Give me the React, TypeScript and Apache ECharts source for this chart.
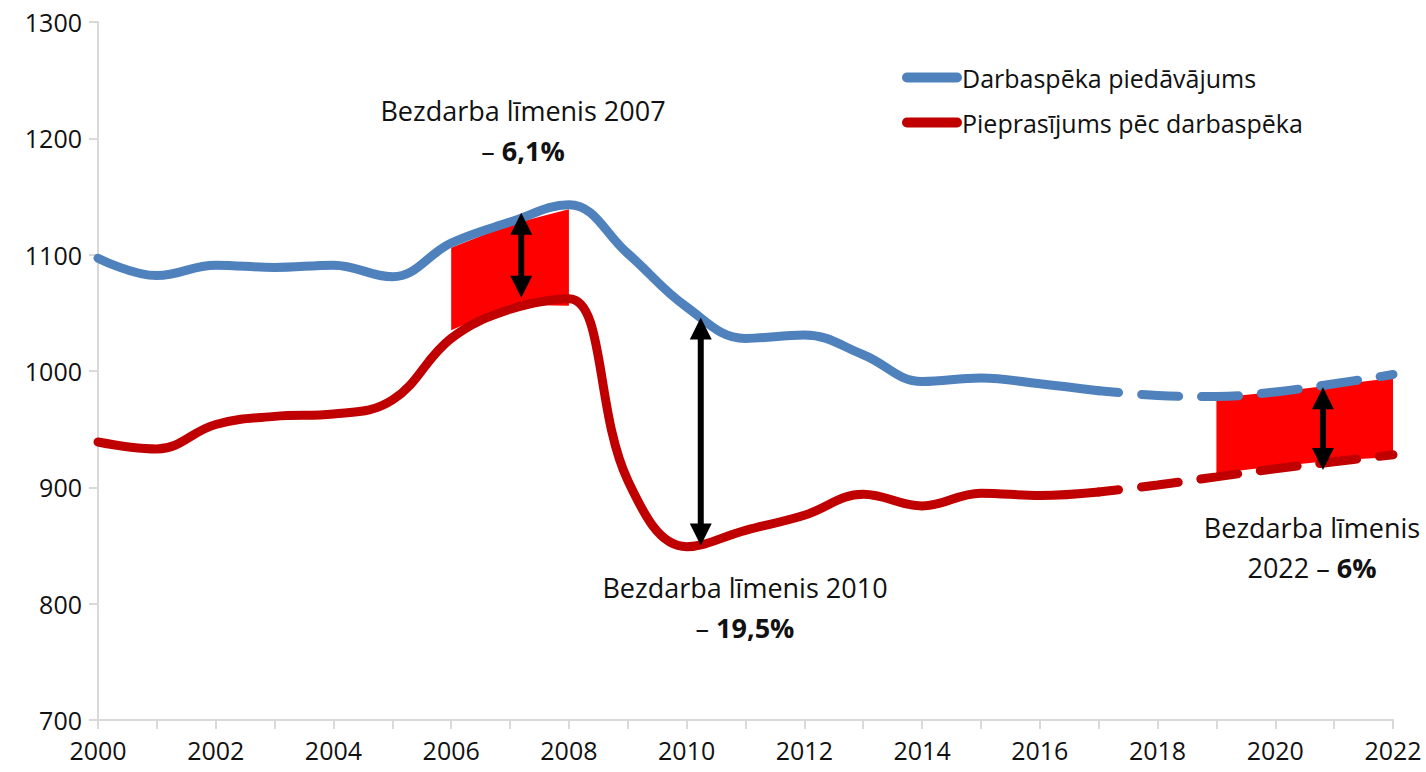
import React, { useEffect, useRef } from "react";
import * as echarts from "echarts";

const actualYears = [2000, 2001, 2002, 2003, 2004, 2005, 2006, 2007, 2008, 2009, 2010, 2011, 2012, 2013, 2014, 2015, 2016, 2017];
const supplyActual = [1097, 1082, 1091, 1089, 1091, 1081, 1110, 1128, 1143, 1101, 1055, 1028, 1031, 1014, 991, 994, 989, 983];
const demandActual = [939, 933, 954, 961, 963, 975, 1028, 1053, 1062, 906, 849, 863, 876, 894, 884, 895, 893, 896];

const forecastYears = [2017, 2018, 2019, 2020, 2021, 2022];
const supplyForecast = [983, 979, 978, 982, 989, 997];
const demandForecast = [896, 902, 909, 916, 922, 928];

const band1Years = [2006, 2007, 2008];
const band1Top = [1106, 1126, 1139];
const band1Bottom = [1035, 1057, 1056];

const band2Years = [2019, 2020, 2021, 2022];
const band2Top = [977, 982, 988, 994];
const band2Bottom = [912, 918, 923, 926];

const arrowX = [2007.19, 2010.24, 2020.81];
const arrowTop = [1136, 1046, 986];
const arrowBottom = [1063, 850, 915];

const seriesNames = ["Darbaspēka piedāvājums", "Pieprasījums pēc darbaspēka"];
const yTicks = { min: 700, max: 1300, interval: 100 };
const xRange = { min: 2000, max: 2022 };

const BLUE = "#4F81BD";
const RED = "#C00000";
const FILL = "#FF0000";
const FONT = "'Open Sans', 'Noto Sans', sans-serif";

function zip(xs: number[], ys: number[]) {
  return xs.map((x, i) => [x, ys[i]]);
}

export default function App() {
  const ref = useRef<HTMLDivElement>(null);
  useEffect(() => {
    if (!ref.current) return;
    const chart = echarts.init(ref.current, undefined, { renderer: "svg" });
    const bands = [
      { years: band1Years, top: band1Top, bottom: band1Bottom },
      { years: band2Years, top: band2Top, bottom: band2Bottom },
    ];
    const dash = { type: [37, 23] as any, dashOffset: 17, cap: "round" as any };
    const richStyles = {
      a: { fontFamily: FONT, fontSize: 27, fill: "#111", lineHeight: 40 },
      b: { fontFamily: FONT, fontSize: 27, fontWeight: "bold", fill: "#111", lineHeight: 40 },
    };
    const option: any = {
      animation: false,
      backgroundColor: "#fff",
      grid: { left: 98, right: 33, top: 22, bottom: 52, containLabel: false },
      xAxis: {
        type: "value",
        min: xRange.min,
        max: xRange.max,
        interval: 1,
        splitLine: { show: false },
        axisLine: { show: true, lineStyle: { color: "#d9d9d9", width: 2 } },
        axisTick: { show: true, length: 9, lineStyle: { color: "#d9d9d9", width: 2 } },
        axisLabel: {
          color: "#111",
          fontFamily: FONT,
          fontSize: 25,
          margin: 17,
          formatter: (v: number) => (v % 2 === 0 ? String(v) : ""),
        },
      },
      yAxis: {
        type: "value",
        min: yTicks.min,
        max: yTicks.max,
        interval: yTicks.interval,
        splitLine: { show: false },
        axisLine: { show: true, lineStyle: { color: "#d9d9d9", width: 2 } },
        axisTick: { show: true, length: 9, lineStyle: { color: "#d9d9d9", width: 2 } },
        axisLabel: { color: "#111", fontFamily: FONT, fontSize: 25, margin: 16, formatter: (v: number) => String(v) },
      },
      legend: {
        orient: "vertical",
        left: 897,
        top: 60,
        itemWidth: 60,
        itemHeight: 10,
        itemGap: 20,
        data: seriesNames,
        icon: "path://M5,0 H55 A5,5 0 0 1 55,10 H5 A5,5 0 0 1 5,0 Z",
        textStyle: { color: "#111", fontFamily: FONT, fontSize: 25, padding: [0, 0, 0, -5] },
        selectedMode: false,
      },
      graphic: [
        {
          type: "text",
          x: 523,
          y: 130,
          z: 10,
          style: {
            text: "{a|Bezdarba līmenis 2007}\n{a|– }{b|6,1%}",
            align: "center",
            verticalAlign: "middle",
            rich: richStyles,
          },
        },
        {
          type: "text",
          x: 745,
          y: 607,
          z: 10,
          style: {
            text: "{a|Bezdarba līmenis 2010}\n{a|– }{b|19,5%}",
            align: "center",
            verticalAlign: "middle",
            rich: richStyles,
          },
        },
        {
          type: "text",
          x: 1312,
          y: 547,
          z: 10,
          style: {
            text: "{a|Bezdarba līmenis}\n{a|2022 – }{b|6%}",
            align: "center",
            verticalAlign: "middle",
            rich: richStyles,
          },
        },
      ],
      series: [
        {
          type: "custom",
          name: "bands",
          z: 1,
          silent: true,
          data: bands.map((_, i) => [i]),
          renderItem: (params: any, api: any) => {
            const b = bands[params.dataIndex];
            const pts: number[][] = [];
            b.years.forEach((y, i) => pts.push(api.coord([y, b.top[i]])));
            for (let i = b.years.length - 1; i >= 0; i--) pts.push(api.coord([b.years[i], b.bottom[i]]));
            return { type: "polygon", shape: { points: pts }, style: { fill: FILL } };
          },
        },
        {
          type: "line",
          name: seriesNames[0],
          z: 3,
          data: zip(actualYears, supplyActual),
          smooth: 0.4,
          showSymbol: false,
          symbol: "none",
          itemStyle: { color: BLUE },
          lineStyle: { color: BLUE, width: 9, cap: "round" },
        },
        {
          type: "line",
          name: seriesNames[0],
          z: 3,
          data: zip(forecastYears, supplyForecast),
          smooth: 0.4,
          showSymbol: false,
          symbol: "none",
          itemStyle: { color: BLUE },
          lineStyle: { color: BLUE, width: 9, ...dash },
        },
        {
          type: "line",
          name: seriesNames[1],
          z: 3,
          data: zip(actualYears, demandActual),
          smooth: 0.4,
          showSymbol: false,
          symbol: "none",
          itemStyle: { color: RED },
          lineStyle: { color: RED, width: 9, cap: "round" },
        },
        {
          type: "line",
          name: seriesNames[1],
          z: 3,
          data: zip(forecastYears, demandForecast),
          smooth: 0.4,
          showSymbol: false,
          symbol: "none",
          itemStyle: { color: RED },
          lineStyle: { color: RED, width: 9, ...dash },
        },
        {
          type: "custom",
          name: "arrows",
          z: 5,
          silent: true,
          data: arrowX.map((x, i) => [x, arrowTop[i], arrowBottom[i]]),
          renderItem: (params: any, api: any) => {
            const top = api.coord([api.value(0), api.value(1)]);
            const bot = api.coord([api.value(0), api.value(2)]);
            const hw = 11;
            const hh = 22;
            return {
              type: "group",
              children: [
                {
                  type: "line",
                  shape: { x1: top[0], y1: top[1] + hh - 2, x2: bot[0], y2: bot[1] - hh + 2 },
                  style: { stroke: "#000", lineWidth: 6 },
                },
                {
                  type: "polygon",
                  shape: { points: [[top[0], top[1]], [top[0] - hw, top[1] + hh], [top[0] + hw, top[1] + hh]] },
                  style: { fill: "#000" },
                },
                {
                  type: "polygon",
                  shape: { points: [[bot[0], bot[1]], [bot[0] - hw, bot[1] - hh], [bot[0] + hw, bot[1] - hh]] },
                  style: { fill: "#000" },
                },
              ],
            };
          },
        },
      ],
    };
    chart.setOption(option);
    return () => chart.dispose();
  }, []);
  return <div ref={ref} style={{ width: 1426, height: 772, position: "absolute", left: 0, top: 0 }} />;
}
